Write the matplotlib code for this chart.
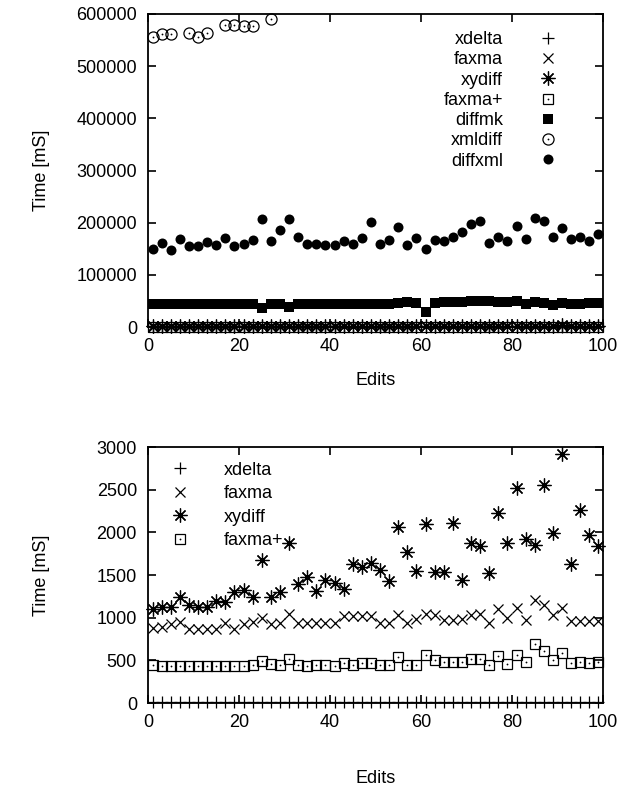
import matplotlib
matplotlib.use("Agg")
import matplotlib.pyplot as plt
from matplotlib.legend_handler import HandlerTuple

plt.rcParams['font.family'] = ['Liberation Sans', 'DejaVu Sans']

# ---------------- data ----------------
edits = list(range(1, 100, 2))  # 50 edits

xdelta = [15] * 50

faxma = [880, 888, 920, 952, 872, 872, 872, 872, 936, 872,
         920, 952, 1000, 920, 936, 1040, 936, 936, 936, 936,
         936, 1016, 1016, 1016, 1016, 936, 936, 1032, 936, 984,
         1048, 1032, 968, 968, 984, 1032, 1048, 936, 1096, 992,
         1108, 968, 1208, 1144, 1032, 1112, 960, 960, 960, 960]

xydiff = [1100, 1130, 1120, 1248, 1150, 1120, 1130, 1195, 1178, 1300,
          1320, 1240, 1680, 1240, 1300, 1880, 1398, 1475, 1314, 1443,
          1404, 1340, 1624, 1592, 1640, 1560, 1427, 2058, 1770, 1545,
          2093, 1532, 1538, 2109, 1441, 1877, 1838, 1522, 2222, 1877,
          2522, 1919, 1855, 2555, 1997, 2920, 1629, 2264, 1964, 1845]

faxma_plus = [440, 435, 439, 430, 433, 433, 433, 433, 433, 433,
              433, 446, 497, 455, 446, 513, 449, 430, 449, 449,
              433, 471, 449, 471, 471, 446, 449, 535, 449, 449,
              558, 503, 481, 481, 481, 513, 513, 449, 551, 455,
              567, 481, 689, 615, 503, 583, 465, 481, 465, 481]

diffmk = [45000] * 12 + [37000, 45000, 45000, 38000] + [45000] * 11 + \
         [46000, 47000, 46000, 28000, 46000, 47000, 48000, 48000, 49000, 50000,
          50000, 48000, 47000, 49000, 44000, 48000, 46000, 42000, 46000, 44000,
          45000, 46000, 46000]

xmldiff_edits = [1, 3, 5, 9, 11, 13, 17, 19, 21, 23, 27]
xmldiff = [556000, 561000, 561000, 563000, 556000, 564000,
           579000, 579000, 577000, 577000, 590000]

diffxml = [149000, 161500, 147500, 168000, 155000, 155000, 163000, 156500, 171000, 155000,
           159000, 166700, 207000, 165000, 186000, 207000, 173000, 160000, 160000, 157000,
           157000, 165000, 159000, 170000, 200600, 159000, 166700, 192000, 157000, 170000,
           149000, 166700, 165000, 172000, 182600, 197000, 203000, 161500, 173000, 165000,
           193500, 168000, 208000, 203000, 172000, 190000, 168000, 173000, 165000, 178000]

top_yticks = [0, 100000, 200000, 300000, 400000, 500000, 600000]
bot_yticks = [0, 500, 1000, 1500, 2000, 2500, 3000]
xticks = [0, 20, 40, 60, 80, 100]

# ---------------- figure ----------------
W, H = 636, 798
fig = plt.figure(figsize=(W / 100, H / 100), dpi=100)

def axrect(l, r, t, b):
    return [l / W, 1 - b / H, (r - l) / W, (b - t) / H]

ax1 = fig.add_axes(axrect(148, 603, 14, 327))
ax2 = fig.add_axes(axrect(148, 603, 447, 703))

FS = 13
k = 'black'


def style(ax):
    for s in ax.spines.values():
        s.set_linewidth(1.3)
    ax.tick_params(direction='in', length=6, width=1.2, top=True, right=True,
                   labelsize=FS, pad=8)
    ax.set_xlim(0, 100)
    ax.set_xticks(xticks)
    ax.set_xlabel('Edits', fontsize=FS)
    ax.set_ylabel('Time [mS]', fontsize=FS)


def draw_small(ax):
    h_xd, = ax.plot(edits, xdelta, ls='none', marker='+', ms=8, mew=0.9, color=k, clip_on=False)
    h_fx, = ax.plot(edits, faxma, ls='none', marker='x', ms=7.5, mew=0.9, color=k, clip_on=False)
    h_xy, = ax.plot(edits, xydiff, ls='none', marker=(8, 2, 0), ms=10, mew=0.9, color=k, clip_on=False)
    h_xy2, = ax.plot(edits, xydiff, ls='none', marker='o', ms=2.6, mew=0, color=k, clip_on=False)
    h_fp, = ax.plot(edits, faxma_plus, ls='none', marker='s', ms=7.5, mew=0.9, mfc='none', color=k, clip_on=False)
    h_fp2, = ax.plot(edits, faxma_plus, ls='none', marker='o', ms=1.3, mew=0, color=k, clip_on=False)
    return [h_xd, h_fx, (h_xy, h_xy2), (h_fp, h_fp2)]


hmap = {tuple: HandlerTuple(ndivide=1, pad=0)}

# ---------- top panel ----------
style(ax1)
ax1.set_ylim(0, 600000)
ax1.set_yticks(top_yticks)
ax1.set_yticklabels([str(v) for v in top_yticks])
hs = draw_small(ax1)
h_mk, = ax1.plot(edits, diffmk, ls='none', marker='s', ms=7.2, mew=0, color=k, clip_on=False)
h_xm, = ax1.plot(xmldiff_edits, xmldiff, ls='none', marker='o', ms=8, mew=0.9, mfc='none', color=k, clip_on=False)
h_xm2, = ax1.plot(xmldiff_edits, xmldiff, ls='none', marker='o', ms=1.3, mew=0, color=k, clip_on=False)
h_dx, = ax1.plot(edits, diffxml, ls='none', marker='o', ms=7.2, mew=0, color=k, clip_on=False)

labels1 = ['xdelta', 'faxma', 'xydiff', 'faxma+', 'diffmk', 'xmldiff', 'diffxml']
handles1 = hs + [h_mk, (h_xm, h_xm2), h_dx]
ax1.legend(handles1, labels1, loc='upper right', bbox_to_anchor=(0.919, 0.945),
           markerfirst=False, frameon=False, fontsize=FS, handlelength=2.0,
           handletextpad=1.5, labelspacing=0.18, borderpad=0, borderaxespad=0,
           handler_map=hmap)
ax1.yaxis.set_label_coords(-0.215, 0.5)
ax1.xaxis.set_label_coords(0.5, -0.145)

# ---------- bottom panel ----------
style(ax2)
ax2.set_ylim(0, 3000)
ax2.set_yticks(bot_yticks)
hs2 = draw_small(ax2)
labels2 = ['xdelta', 'faxma', 'xydiff', 'faxma+']
ax2.legend(hs2, labels2, loc='upper left', bbox_to_anchor=(0.031, 0.943),
           markerfirst=True, frameon=False, fontsize=FS, handlelength=2.0,
           handletextpad=1.4, labelspacing=0.36, borderpad=0, borderaxespad=0,
           handler_map=hmap)
ax2.yaxis.set_label_coords(-0.215, 0.5)
ax2.xaxis.set_label_coords(0.5, -0.26)

fig.savefig('out.png', dpi=100)
